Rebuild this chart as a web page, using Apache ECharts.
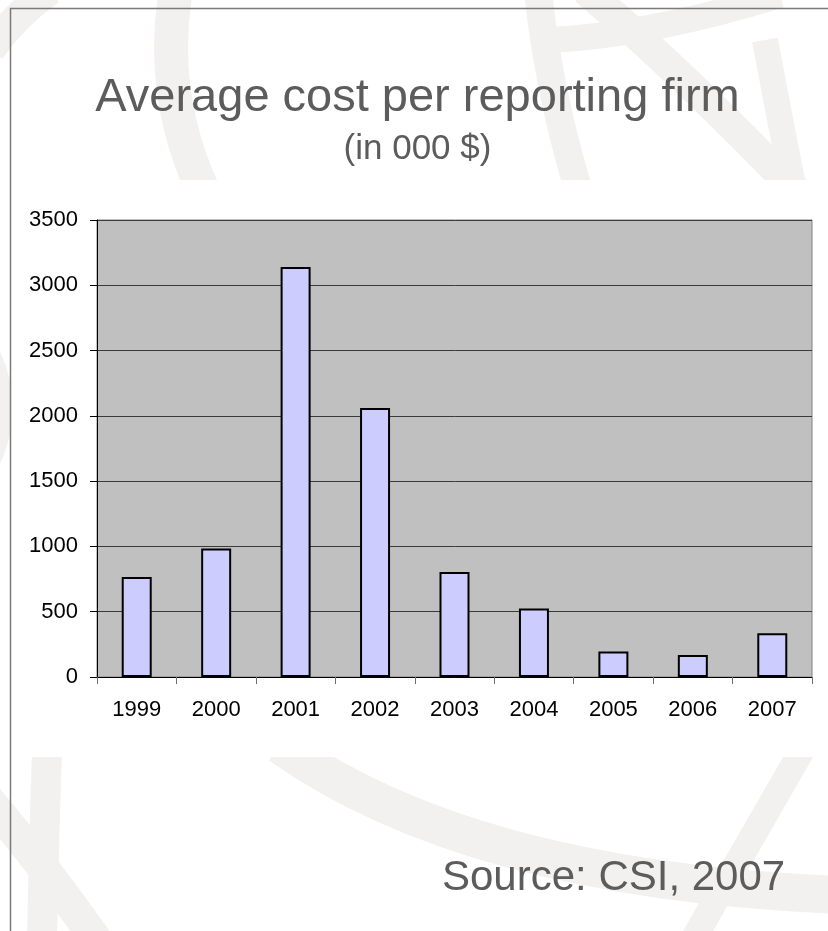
<!DOCTYPE html>
<html>
<head>
<meta charset="utf-8">
<script src="https://cdn.jsdelivr.net/npm/echarts@6/dist/echarts.min.js"></script>
<style>
  html, body { margin: 0; padding: 0; background: #ffffff; }
  #chart { width: 828px; height: 931px; }
</style>
</head>
<body>
<div id="chart"></div>
<script>
// Average cost per reporting firm, thousands of dollars
const years = ['1999', '2000', '2001', '2002', '2003', '2004', '2005', '2006', '2007'];
const avgCost = [765, 985, 3140, 2060, 805, 525, 195, 168, 335];
const yTicks = { min: 0, max: 3500, interval: 500 };

const titleText = 'Average cost per reporting firm';
const subtitleText = '(in 000 $)';
const sourceText = 'Source: CSI, 2007';

const FONT = '"Liberation Sans", Arial, Helvetica, sans-serif';
const TEXT_GREY = '#5c5c5c';
const BAND = '#f2f1f0';

// Faint decorative swoosh bands of the slide background
const swooshes = [
  [-10, 50, 15, 15, 50, -10, 30],
  [176, -10, 158, 95, 205, 195, 34],
  [538, -10, 548, 90, 580, 195, 28],
  [585, -10, 680, 70, 800, 195, 30],
  [550, 40, 650, 35, 780, -5, 26],
  [765, 40, 778, 110, 795, 195, 26],
  [-30, 330, 20, 400, -20, 470, 30],
  [47, 750, 44, 840, 42, 940, 30],
  [-20, 790, 40, 860, 100, 945, 32],
  [280, 745, 470, 880, 840, 895, 38],
  [805, 745, 750, 840, 690, 945, 26]
];

const bgGraphics = swooshes.map(s => ({
  type: 'bezierCurve',
  z: -30,
  silent: true,
  shape: { x1: s[0], y1: s[1], cpx1: s[2], cpy1: s[3], x2: s[4], y2: s[5] },
  style: { fill: null, stroke: BAND, lineWidth: s[6] }
}));

const chart = echarts.init(document.getElementById('chart'), null, { renderer: 'canvas' });

chart.setOption({
  backgroundColor: '#ffffff',
  animation: false,
  graphic: bgGraphics.concat([
    // white panel holding the chart
    { type: 'rect', z: -20, silent: true,
      shape: { x: 10, y: 180, width: 830, height: 577 },
      style: { fill: '#ffffff', stroke: null } },
    // slide frame
    { type: 'rect', z: -10, silent: true,
      shape: { x: 10.5, y: 8.5, width: 840, height: 940 },
      style: { fill: null, stroke: '#7a7a7a', lineWidth: 1.5 } },
    { type: 'text', z: 5, silent: true,
      x: 417.5, y: 98.5,
      style: { text: titleText, font: '47px ' + FONT, fill: TEXT_GREY,
               align: 'center', verticalAlign: 'middle' } },
    { type: 'text', z: 5, silent: true,
      x: 417.5, y: 149,
      style: { text: subtitleText, font: '35px ' + FONT, fill: TEXT_GREY,
               align: 'center', verticalAlign: 'middle' } },
    { type: 'text', z: 5, silent: true,
      x: 442, y: 878.5,
      style: { text: sourceText, font: '42px ' + FONT, fill: TEXT_GREY,
               align: 'left', verticalAlign: 'middle' } }
  ]),
  grid: {
    left: 97, top: 220, right: 16, bottom: 254,
    show: true,
    backgroundColor: '#c0c0c0',
    borderColor: '#808080',
    borderWidth: 1
  },
  xAxis: {
    type: 'category',
    data: years,
    boundaryGap: true,
    axisLine: { show: true, lineStyle: { color: '#000000', width: 1 } },
    axisTick: { show: true, length: 7, alignWithLabel: false,
                lineStyle: { color: '#6e6e6e', width: 1 } },
    axisLabel: { margin: 22, color: '#000000', fontSize: 22, fontFamily: FONT },
    splitLine: { show: false }
  },
  yAxis: {
    type: 'value',
    min: yTicks.min, max: yTicks.max, interval: yTicks.interval,
    axisLine: { show: true, lineStyle: { color: '#000000', width: 1 } },
    axisTick: { show: true, length: 7, lineStyle: { color: '#000000', width: 1 } },
    axisLabel: { margin: 19, color: '#000000', fontSize: 22, fontFamily: FONT,
                 formatter: v => String(v) },
    splitLine: { show: true, lineStyle: { color: '#3a3a3a', width: 1 } }
  },
  series: [{
    type: 'bar',
    data: avgCost,
    barWidth: 30,
    itemStyle: { color: '#ccccff', borderColor: '#000000', borderWidth: 2 },
    emphasis: { disabled: true }
  }]
});
</script>
</body>
</html>
